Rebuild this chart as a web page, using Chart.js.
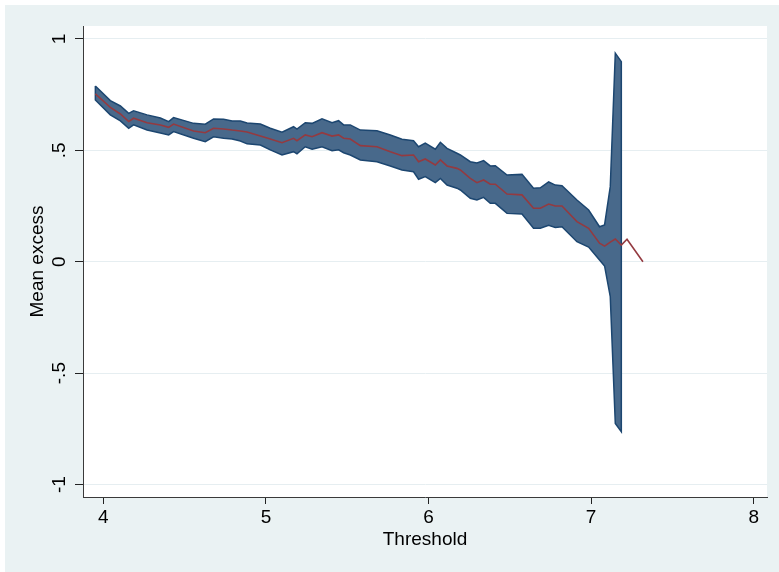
<!DOCTYPE html>
<html><head><meta charset="utf-8">
<script src="https://cdn.jsdelivr.net/npm/chart.js@4.4.0/dist/chart.umd.min.js"></script>
<style>html,body{margin:0;padding:0;background:#fff;} canvas{display:block;}</style>
</head><body>
<canvas id="c" width="779" height="572" style="width:779px;height:572px"></canvas>
<script>
const thresholds = [3.951, 4.043, 4.105, 4.156, 4.186, 4.269, 4.351, 4.402, 4.432, 4.555, 4.627, 4.678, 4.740, 4.792, 4.843, 4.884, 4.966, 5.027, 5.099, 5.170, 5.191, 5.242, 5.284, 5.345, 5.407, 5.447, 5.478, 5.519, 5.581, 5.683, 5.765, 5.837, 5.908, 5.939, 5.980, 6.042, 6.073, 6.114, 6.175, 6.196, 6.257, 6.298, 6.339, 6.380, 6.411, 6.483, 6.575, 6.646, 6.688, 6.739, 6.780, 6.821, 6.913, 6.985, 7.052, 7.083, 7.118, 7.149, 7.186, 7.221, 7.319];
const meanExcess = [0.753, 0.693, 0.663, 0.629, 0.644, 0.624, 0.614, 0.603, 0.618, 0.587, 0.579, 0.599, 0.596, 0.591, 0.587, 0.582, 0.564, 0.551, 0.534, 0.554, 0.543, 0.569, 0.561, 0.579, 0.564, 0.569, 0.554, 0.551, 0.521, 0.516, 0.494, 0.476, 0.479, 0.449, 0.461, 0.434, 0.457, 0.430, 0.419, 0.412, 0.374, 0.355, 0.367, 0.348, 0.348, 0.304, 0.300, 0.240, 0.240, 0.259, 0.250, 0.250, 0.180, 0.150, 0.083, 0.070, 0.088, 0.102, 0.075, 0.101, 0.000];
const upperCI = [0.789, 0.723, 0.699, 0.666, 0.677, 0.659, 0.645, 0.629, 0.647, 0.621, 0.617, 0.641, 0.639, 0.632, 0.632, 0.623, 0.618, 0.599, 0.581, 0.606, 0.595, 0.624, 0.621, 0.641, 0.624, 0.633, 0.614, 0.614, 0.591, 0.588, 0.569, 0.550, 0.543, 0.516, 0.532, 0.505, 0.536, 0.509, 0.487, 0.479, 0.449, 0.443, 0.454, 0.430, 0.431, 0.389, 0.392, 0.330, 0.332, 0.358, 0.344, 0.341, 0.277, 0.232, 0.157, 0.165, 0.337, 0.936, 0.898];
const lowerCI = [0.726, 0.659, 0.632, 0.599, 0.614, 0.591, 0.578, 0.569, 0.584, 0.554, 0.539, 0.561, 0.554, 0.551, 0.542, 0.529, 0.524, 0.502, 0.479, 0.494, 0.484, 0.516, 0.505, 0.516, 0.498, 0.502, 0.489, 0.479, 0.457, 0.449, 0.430, 0.412, 0.404, 0.370, 0.382, 0.355, 0.374, 0.344, 0.330, 0.322, 0.285, 0.277, 0.289, 0.262, 0.262, 0.217, 0.214, 0.150, 0.150, 0.163, 0.154, 0.157, 0.090, 0.066, 0.008, -0.019, -0.157, -0.726, -0.763];
const xTicks = [4, 5, 6, 7, 8];
const xTickLabels = ['4', '5', '6', '7', '8'];
const yTicks = [-1, -0.5, 0, 0.5, 1];
const yTickLabels = ['-1', '-.5', '0', '.5', '1'];

const bandUpper = upperCI.map((v, i) => ({x: thresholds[i], y: v}));
const bandLower = lowerCI.map((v, i) => ({x: thresholds[i], y: v})).reverse();
const bandPolygon = bandUpper.concat(bandLower, [bandUpper[0]]);
const meanLine = meanExcess.map((v, i) => ({x: thresholds[i], y: v}));

const FONT = {family: '"Liberation Sans", Arial, sans-serif', size: 19};

const bgPlugin = {
  id: 'bg',
  beforeDraw(chart) {
    const ctx = chart.ctx, a = chart.chartArea;
    ctx.save();
    ctx.fillStyle = '#ffffff';
    ctx.fillRect(0, 0, chart.width, chart.height);
    ctx.fillStyle = '#eaf2f3';
    ctx.fillRect(5, 5, chart.width - 5, chart.height - 5);
    ctx.fillStyle = '#ffffff';
    ctx.fillRect(a.left, a.top, a.right - a.left, a.bottom - a.top);
    ctx.restore();
  }
};

new Chart(document.getElementById('c'), {
  type: 'line',
  data: {
    datasets: [
      {
        label: 'Mean excess',
        data: meanLine,
        borderColor: '#943a40',
        borderWidth: 1.6,
        pointRadius: 0,
        tension: 0,
        fill: false
      },
      {
        label: 'CI',
        data: bandPolygon,
        borderColor: '#1c4670',
        backgroundColor: '#48698b',
        borderWidth: 1.5,
        pointRadius: 0,
        tension: 0,
        fill: 'shape'
      }
    ]
  },
  options: {
    responsive: false,
    animation: false,
    devicePixelRatio: 1,
    layout: {padding: {top: 26, right: 12, left: 0, bottom: 0}},
    plugins: {legend: {display: false}, tooltip: {enabled: false}},
    scales: {
      x: {
        type: 'linear',
        min: 3.875, max: 8.082,
        afterBuildTicks: s => { s.ticks = xTicks.map(v => ({value: v})); },
        afterFit: s => { s.height = 75; },
        grid: {drawOnChartArea: false, drawTicks: true, tickLength: 7, tickColor: '#222', tickWidth: 1},
        border: {color: '#3a3a3a', width: 1},
        ticks: {color: '#000', font: FONT, padding: 2, maxRotation: 0, autoSkip: false,
          callback: (v) => xTickLabels[xTicks.indexOf(v)]},
        title: {display: true, text: 'Threshold', color: '#000', font: FONT, padding: {top: 0, bottom: 21}}
      },
      y: {
        type: 'linear',
        min: -1.056, max: 1.058,
        afterBuildTicks: s => { s.ticks = yTicks.map(v => ({value: v})); },
        afterFit: s => { s.width = 83; },
        grid: {color: '#e6eef1', lineWidth: 1, drawTicks: true, tickLength: 8, tickColor: '#222'},
        border: {color: '#3a3a3a', width: 1},
        ticks: {color: '#000', font: FONT, padding: 4, minRotation: 90, maxRotation: 90, crossAlign: 'center', autoSkip: false,
          callback: (v) => yTickLabels[yTicks.indexOf(v)]},
        title: {display: true, text: 'Mean excess', color: '#000', font: FONT, padding: {top: 26, bottom: 0}}
      }
    }
  },
  plugins: [bgPlugin]
});
</script>
</body></html>
